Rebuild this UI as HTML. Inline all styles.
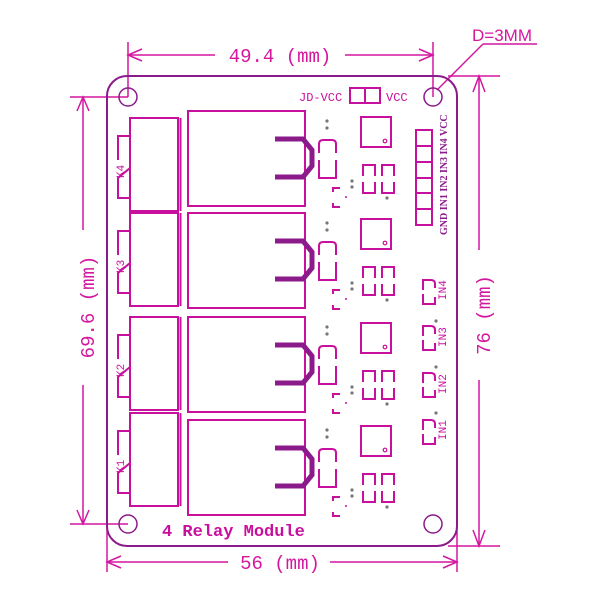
<!DOCTYPE html>
<html><head><meta charset="utf-8"><style>
html,body{margin:0;padding:0;background:#fff;}
svg{display:block;}
text{font-family:"Liberation Mono",monospace;}
</style></head><body>
<svg width="600" height="600" viewBox="0 0 600 600" xmlns="http://www.w3.org/2000/svg">
<defs>
<g id="kbox" fill="none" stroke="#c8109e" stroke-width="2">
  <rect x="130" y="118" width="48" height="93"/>
  <line x1="180.5" y1="118" x2="180.5" y2="211"/>
  <polyline points="130,136 118,136 118,160"/>
  <polyline points="130,168 118,178 118,198 130,198"/>
</g>
<g id="row" fill="none" stroke="#c8109e" stroke-width="2">
  <rect x="188" y="111" width="117" height="95"/>
  <polyline points="275,139 303,139 312,150 312,166 303,177 275,177" stroke="#8b1a8b" stroke-width="5" stroke-linejoin="miter"/>
  <path d="M319,153 V144 Q319,140 323,140 H332 Q336,140 336,144 V153"/>
  <polyline points="319,160 319,178 336,178 336,160"/>
  <polyline points="340,188 333,188 333,192"/>
  <polyline points="333,203 333,207 340,207"/>
  <rect x="361" y="117" width="30" height="30"/>
  <circle cx="385" cy="141" r="1.8" stroke-width="1.2"/>
  <polyline points="363,176 363,165 375,165 375,176"/>
  <polyline points="363,182 363,193 375,193 375,182"/>
  <polyline points="382,176 382,165 394,165 394,176"/>
  <polyline points="382,182 382,193 394,193 394,182"/>
</g>
<g id="dots" fill="#777">
  <circle cx="327" cy="121" r="1.6"/><circle cx="327" cy="128" r="1.6"/>
  <circle cx="352" cy="181" r="1.6"/><circle cx="352" cy="187" r="1.6"/>
  <circle cx="387" cy="198" r="1.6"/>
  <circle cx="346" cy="197" r="1" fill="#c8109e"/>
</g>
</defs>

<g stroke="#d4179f" stroke-width="1.5" fill="none">
  <line x1="128" y1="42" x2="128" y2="97"/>
  <line x1="433" y1="42" x2="433" y2="97"/>
  <line x1="128" y1="55" x2="215" y2="55"/>
  <line x1="345" y1="55" x2="433" y2="55"/>
  <polyline points="142,49 128,55 142,61"/>
  <polyline points="419,49 433,55 419,61"/>
  <line x1="448" y1="76" x2="500" y2="76"/>
  <line x1="448" y1="546" x2="500" y2="546"/>
  <line x1="479" y1="76" x2="479" y2="250"/>
  <line x1="479" y1="380" x2="479" y2="546"/>
  <polyline points="473,92 479,76 485,92"/>
  <polyline points="473,530 479,546 485,530"/>
  <line x1="70" y1="97" x2="128" y2="97"/>
  <line x1="70" y1="524" x2="128" y2="524"/>
  <line x1="83" y1="97" x2="83" y2="230"/>
  <line x1="83" y1="385" x2="83" y2="524"/>
  <polyline points="77,111 83,97 89,111"/>
  <polyline points="77,510 83,524 89,510"/>
  <line x1="107" y1="525" x2="107" y2="572"/>
  <line x1="457" y1="525" x2="457" y2="572"/>
  <line x1="107" y1="562" x2="228" y2="562"/>
  <line x1="330" y1="562" x2="457" y2="562"/>
  <polyline points="121,556 107,562 121,568"/>
  <polyline points="443,556 457,562 443,568"/>
  <line x1="437" y1="90" x2="483" y2="44"/>
  <line x1="483" y1="44" x2="537" y2="44"/>
</g>
<g fill="#d4179f" font-size="19">
  <text x="280" y="62" text-anchor="middle">49.4 (mm)</text>
  <text x="280" y="569" text-anchor="middle">56 (mm)</text>
  <text x="0" y="0" text-anchor="middle" transform="translate(490,315) rotate(-90)">76 (mm)</text>
  <text x="0" y="0" text-anchor="middle" transform="translate(94,307) rotate(-90)">69.6 (mm)</text>
  <text x="472" y="41" font-size="17" style="font-family:'Liberation Sans',sans-serif">D=3MM</text>
</g>

<rect x="107" y="76" width="350" height="470" rx="20" fill="none" stroke="#8b1a8b" stroke-width="2"/>
<g fill="none" stroke="#8b1a8b" stroke-width="1.5">
  <circle cx="128" cy="97" r="9"/><circle cx="433" cy="97" r="9"/>
  <circle cx="128" cy="524" r="9"/><circle cx="433" cy="524" r="9"/>
</g>

<use href="#kbox"/>
<use href="#kbox" transform="translate(0,95)"/>
<use href="#kbox" transform="translate(0,199)"/>
<use href="#kbox" transform="translate(0,295)"/>
<use href="#row"/><use href="#dots"/>
<use href="#row" transform="translate(0,102)"/><use href="#dots" transform="translate(0,102)"/>
<use href="#row" transform="translate(0,206)"/><use href="#dots" transform="translate(0,206)"/>
<use href="#row" transform="translate(0,309)"/><use href="#dots" transform="translate(0,309)"/>

<g fill="#c8109e" font-size="11">
  <text transform="translate(124,178) rotate(-90)">K4</text>
  <text transform="translate(124,273) rotate(-90)">K3</text>
  <text transform="translate(124,377) rotate(-90)">K2</text>
  <text transform="translate(124,473) rotate(-90)">K1</text>
  <text x="299" y="101" font-size="12">JD-VCC</text>
  <text x="386" y="101" font-size="12">VCC</text>
  <text x="162" y="536" font-size="17" font-weight="bold">4 Relay Module</text>
</g>
<g fill="none" stroke="#c8109e" stroke-width="2">
  <rect x="350" y="88" width="30" height="15"/><line x1="365" y1="88" x2="365" y2="103"/>
  <rect x="416" y="130" width="16" height="95"/>
  <line x1="416" y1="146" x2="432" y2="146"/><line x1="416" y1="162" x2="432" y2="162"/>
  <line x1="416" y1="178" x2="432" y2="178"/><line x1="416" y1="193" x2="432" y2="193"/>
  <line x1="416" y1="209" x2="432" y2="209"/>
</g>
<text transform="translate(447,235) rotate(-90)" font-size="10" font-weight="bold" fill="#8b1a8b" style="font-family:'Liberation Serif',serif">GND IN1 IN2 IN3 IN4 VCC</text>

<g id="inb" fill="none" stroke="#c8109e" stroke-width="2">
  <path d="M423,290 V280 H431 Q435,280 435,284 V288"/>
  <polyline points="423,294 423,304 435,304 435,297"/>
</g>
<use href="#inb" transform="translate(0,46)"/>
<use href="#inb" transform="translate(0,93)"/>
<use href="#inb" transform="translate(0,140)"/>
<g fill="#777"><circle cx="436" cy="321" r="1.6"/><circle cx="436" cy="367" r="1.6"/><circle cx="436" cy="413" r="1.6"/></g>
<g fill="#c8109e" font-size="11">
  <text transform="translate(446,300) rotate(-90)">IN4</text>
  <text transform="translate(446,347) rotate(-90)">IN3</text>
  <text transform="translate(446,394) rotate(-90)">IN2</text>
  <text transform="translate(446,440) rotate(-90)">IN1</text>
</g>
</svg>
</body></html>
